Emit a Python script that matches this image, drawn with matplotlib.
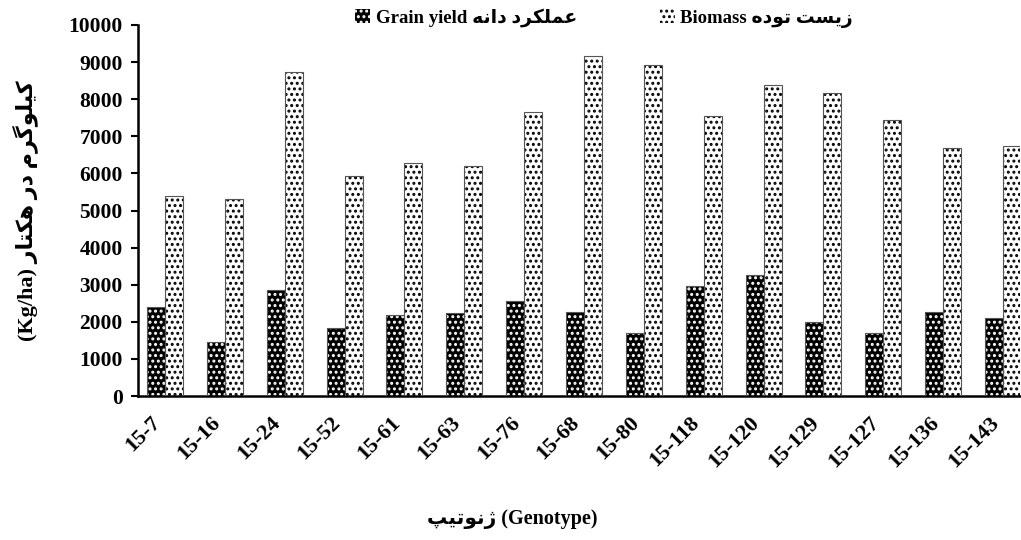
import matplotlib
matplotlib.use("Agg")
import matplotlib.pyplot as plt
import numpy as np
from matplotlib.patches import Patch

genotypes = ["15-7", "15-16", "15-24", "15-52", "15-61", "15-63", "15-76", "15-68",
             "15-80", "15-118", "15-120", "15-129", "15-127", "15-136", "15-143"]
grain_yield = [2400, 1450, 2850, 1830, 2180, 2230, 2560, 2260, 1700, 2960, 3260, 2000, 1700, 2260, 2100]
biomass = [5390, 5310, 8730, 5930, 6280, 6200, 7650, 9160, 8920, 7550, 8380, 8170, 7440, 6680, 6740]
yticks = list(range(0, 10001, 1000))

# --- minimal Persian shaping (matplotlib has no complex text layout) ---
FORMS = {
    "ع": ("\uFEC9", "\uFECA", "\uFECB", "\uFECC"),
    "م": ("\uFEE1", "\uFEE2", "\uFEE3", "\uFEE4"),
    "ل": ("\uFEDD", "\uFEDE", "\uFEDF", "\uFEE0"),
    "ک": ("\uFB8E", "\uFB8F", "\uFB90", "\uFB91"),
    "ر": ("\uFEAD", "\uFEAE"),
    "د": ("\uFEA9", "\uFEAA"),
    "ا": ("\uFE8D", "\uFE8E"),
    "ن": ("\uFEE5", "\uFEE6", "\uFEE7", "\uFEE8"),
    "ه": ("\uFEE9", "\uFEEA", "\uFEEB", "\uFEEC"),
    "ز": ("\uFEAF", "\uFEB0"),
    "ی": ("\uFBFC", "\uFBFD", "\uFBFE", "\uFBFF"),
    "س": ("\uFEB1", "\uFEB2", "\uFEB3", "\uFEB4"),
    "ت": ("\uFE95", "\uFE96", "\uFE97", "\uFE98"),
    "و": ("\uFEED", "\uFEEE"),
    "ژ": ("\uFB8A", "\uFB8B"),
    "پ": ("\uFB56", "\uFB57", "\uFB58", "\uFB59"),
    "گ": ("\uFB92", "\uFB93", "\uFB94", "\uFB95"),
}


def shape(text):
    out = []
    n = len(text)
    for i, ch in enumerate(text):
        if ch not in FORMS:
            out.append(ch)
            continue
        f = FORMS[ch]
        prev = text[i - 1] if i > 0 else None
        nxt = text[i + 1] if i < n - 1 else None
        join_prev = prev in FORMS and len(FORMS[prev]) == 4
        join_next = len(f) == 4 and nxt in FORMS
        if join_prev and join_next:
            out.append(f[3])
        elif join_prev:
            out.append(f[1])
        elif join_next:
            out.append(f[2])
        else:
            out.append(f[0])
    return "".join(out)[::-1]


FAM = ["Liberation Serif", "DejaVu Sans"]
plt.rcParams["font.family"] = FAM
plt.rcParams["font.weight"] = "bold"
plt.rcParams["hatch.linewidth"] = 1.4

fig = plt.figure(figsize=(10.21, 5.40), dpi=100)
ax = fig.add_axes([138 / 1021, 144 / 540, (1020 - 138) / 1021, (396 - 25) / 540])

x = np.arange(len(genotypes))
w = 0.3

# Grain yield: black with white dots
ax.bar(x - w / 2, grain_yield, w, color="black", edgecolor="white", hatch="...", linewidth=0, zorder=2)
ax.bar(x - w / 2, grain_yield, w, fill=False, edgecolor="#555555", linewidth=0.8, zorder=3)
# Biomass: white with black dots
ax.bar(x + w / 2, biomass, w, color="white", edgecolor="black", hatch="...", linewidth=0, zorder=2)
ax.bar(x + w / 2, biomass, w, fill=False, edgecolor="#555555", linewidth=0.8, zorder=3)

ax.set_xlim(-0.451, 14.284)
ax.set_ylim(0, 10000)
ax.set_yticks(yticks)
ax.set_yticklabels([str(t) for t in yticks], fontsize=15.5, fontweight="bold")
ax.set_xticks(x)
ax.set_xticklabels(genotypes, rotation=45, ha="right", va="top", fontsize=16, fontweight="bold")
ax.tick_params(axis="x", length=0, pad=12)
ax.tick_params(axis="y", direction="out", length=5, width=1.5, pad=6)
for s in ["top", "right"]:
    ax.spines[s].set_visible(False)
ax.spines["left"].set_linewidth(1.8)
ax.spines["bottom"].set_linewidth(1.8)

ax.set_ylabel("(Kg/ha) " + shape("کیلوگرم در هکتار"), fontsize=16, fontweight="bold")
ax.yaxis.set_label_coords((38 - 138) / 882, 0.5)
fig.text(512 / 1021, 1 - 519 / 540, shape("ژنوتیپ") + " (Genotype)", ha="center", va="center",
         fontsize=14.5, fontweight="bold")

h1 = Patch(facecolor="black", edgecolor="white", hatch="...", linewidth=0)
h2 = Patch(facecolor="white", edgecolor="black", hatch="...", linewidth=0)
lab1 = "Grain yield " + shape("عملکرد دانه")
lab2 = "Biomass " + shape("زیست توده")
fig.legend([h1, h2], [lab1, lab2], loc="center", bbox_to_anchor=(604 / 1021, 1 - 18 / 540), ncol=2,
           frameon=False, handlelength=0.8, handleheight=0.8, columnspacing=4.4,
           handletextpad=0.3, prop={"weight": "bold", "size": 13.5})

fig.savefig("out.png", dpi=100)
